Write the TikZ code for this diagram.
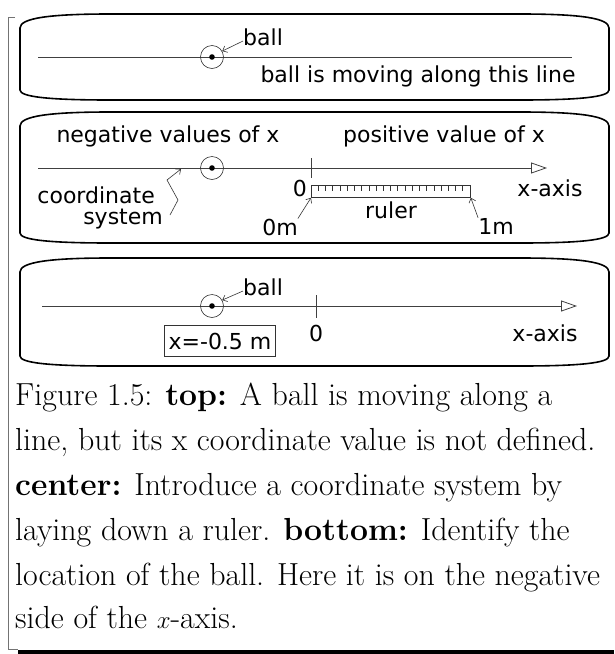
\documentclass[tikz,border=0pt]{standalone}
\usepackage{fontspec}
\newfontfamily\lblfont{DejaVu Sans}
\usetikzlibrary{arrows.meta}
\begin{document}
\begin{tikzpicture}[x=1pt, y=-1pt,
    panel/.style={draw=black, line width=1.6pt},
    axisline/.style={draw=black!75, line width=0.8pt},
    axisarrow/.style={axisline, -{Triangle[open, length=16pt, width=11pt]}},
    ptr/.style={draw=black!80, line width=0.6pt, -{Straight Barb[length=4pt, width=7pt]}},
    ball/.style={circle, draw=black!80, line width=0.6pt, minimum size=23pt, inner sep=0pt},
    lbl/.style={font=\lblfont\fontsize{22}{24}\selectfont, inner sep=0pt},
    caption/.style={font=\fontsize{31.9}{45}\selectfont, anchor=base west, inner sep=0pt}
  ]
  \useasboundingbox (0,0) rectangle (614,654);
  \draw[black!55, line width=0.8pt] (15,17) -- (8,17) -- (8,649) -- (18,649);
  \fill (18,650) rectangle (614,654);
  \foreach \ytop/\ybot in {14/100, 112/243, 258/366} {
    \draw[panel] (20,\ytop+14) .. controls (20,\ytop+4) and (50,\ytop) .. (110,\ytop)
      -- (520,\ytop) .. controls (580,\ytop) and (609,\ytop+4) .. (609,\ytop+14)
      -- (609,\ybot-10) .. controls (609,\ybot-3) and (580,\ybot) .. (520,\ybot)
      -- (110,\ybot) .. controls (50,\ybot) and (20,\ybot-3) .. (20,\ybot-10) -- cycle;
  }
  % top
  \coordinate (l1a) at (38,57);
  \coordinate (l1b) at (572,57);
  \draw[axisline] (l1a) -- (l1b);
  \node[ball] (ball1) at (212,57) {};
  \fill (ball1.center) circle[radius=2.8pt];
  \node[lbl, anchor=west] (lb1) at (243,37) {ball};
  \draw[ptr] ([yshift=-4pt]lb1.west) -- (ball1.30);
  \node[lbl] (move) at (418,76) {ball is moving along this line};
  % center
  \node[lbl] (neg) at (168,136) {negative values of x};
  \node[lbl] (pos) at (444,136) {positive value of x};
  \coordinate (ax2a) at (38,168);
  \coordinate (ax2b) at (547,168);
  \draw[axisarrow] (ax2a) -- (ax2b);
  \node[ball] (ball2) at (212,168) {};
  \fill (ball2.center) circle[radius=2.8pt];
  \draw[axisline] (311,158) -- (311,178);
  \node[draw=black!80, line width=0.8pt, minimum width=159pt, minimum height=12pt,
    inner sep=0pt, anchor=north west] (ruler) at (311,185) {};
  \foreach \i in {1,...,21}
    \draw[black!80, line width=0.6pt] (311+\i*7.227,185) -- ++(0,6);
  \node[lbl, anchor=east] (zero2) at (307,188) {0};
  \node[lbl] (xax2) at (550,188) {x-axis};
  \node[lbl] (rul) at (391,210) {ruler};
  \node[lbl] (m0) at (280,227) {0m};
  \node[lbl] (m1) at (496,226) {1m};
  \draw[ptr] (m0.north east) -- (ruler.south west);
  \draw[ptr] (m1.north west) -- (ruler.south east);
  \node[lbl, anchor=east] (cs1) at (155,195) {coordinate};
  \node[lbl, anchor=east] (cs2) at (163,219) {system};
  \coordinate (z1) at (170,215);
  \coordinate (z2) at (178,200);
  \coordinate (z3) at (167,180);
  \coordinate (z4) at (181,169);
  \draw[ptr] (z1) -- (z2) -- (z3) -- (z4);
  % bottom
  \coordinate (ax3a) at (42,306);
  \coordinate (ax3b) at (577,306);
  \draw[axisarrow] (ax3a) -- (ax3b);
  \node[ball] (ball3) at (212,306) {};
  \fill (ball3.center) circle[radius=2.8pt];
  \draw[axisline] (316,295) -- (316,318);
  \node[lbl, anchor=west] (lb3) at (243,287) {ball};
  \draw[ptr] ([yshift=-4pt]lb3.west) -- (ball3.30);
  \node[lbl, draw=black!80, line width=0.6pt, minimum width=111pt, minimum height=31pt] (xval) at (220,341) {x=-0.5 m};
  \node[lbl] (zero3) at (316,333) {0};
  \node[lbl] (xax3) at (545,333) {x-axis};
  % caption
  \foreach \yb/\txt in {405/{Figure 1.5: \textbf{top:} A ball is moving along a},
      450/{line, but its x coordinate value is not defined.},
      495/{\textbf{center:} Introduce a coordinate system by},
      540/{laying down a ruler. \textbf{bottom:} Identify the},
      585/{location of the ball. Here it is on the negative},
      628/{side of the $x$-axis.}}
    \node[caption] (cap\yb) at (15,\yb) {\txt};
\end{tikzpicture}
\end{document}
